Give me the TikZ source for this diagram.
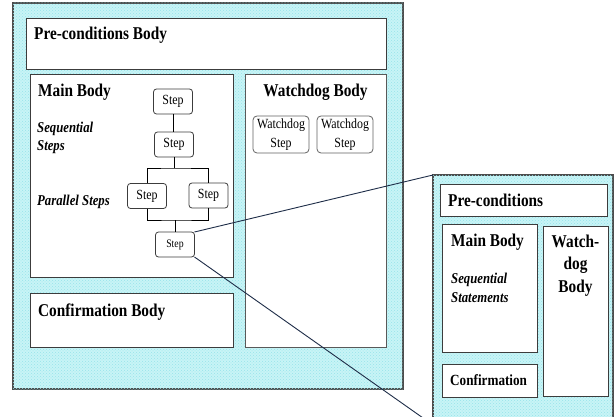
\documentclass[tikz,border=0pt]{standalone}
\usepackage{fontspec}
\setmainfont{Liberation Serif}[FakeStretch=0.85]
\usetikzlibrary{patterns}
\definecolor{tint}{RGB}{200,244,246}
\definecolor{tintdot}{RGB}{150,228,234}
\definecolor{edge}{RGB}{60,60,60}
\definecolor{zoomline}{RGB}{30,45,72}
\newcommand\hdfont{\fontsize{18}{20}\selectfont\bfseries}
\newcommand\smhdfont{\fontsize{15.5}{18}\selectfont\bfseries}
\newcommand\notefont{\fontsize{15}{20}\selectfont\bfseries\itshape}
\newcommand\stepfont{\fontsize{14}{19.5}\selectfont}
\newcommand\tinystepfont{\fontsize{11.5}{13}\selectfont}
\tikzset{
  hatched/.style={fill=tint, postaction={pattern=crosshatch dots, pattern color=tintdot}},
  frame/.style={draw=gray!60!black, line width=1.2pt, hatched, inner sep=0pt, outer sep=0pt, anchor=north west},
  panel/.style={draw=edge, line width=0.9pt, fill=white, inner sep=0pt, outer sep=0pt, anchor=north west},
  stepbox/.style={draw=edge, line width=0.8pt, rounded corners=3pt, fill=white, inner sep=0pt, outer sep=0pt,
    minimum width=39pt, minimum height=25pt, font=\stepfont},
  wdstep/.style={draw=edge!80, line width=0.8pt, rounded corners=4pt, fill=white, inner sep=0pt, outer sep=0pt,
    minimum width=56pt, minimum height=37pt, align=center, font=\stepfont},
  label/.style={anchor=base west, inner sep=0pt},
  flow/.style={draw=black, line width=0.8pt},
  zoomlink/.style={draw=zoomline, line width=0.9pt}
}
\begin{document}
\begin{tikzpicture}[x=1pt, y=-1pt]
\useasboundingbox (0,0) rectangle (616,417);
\clip (0,0) rectangle (616,417);

% outer routine frame
\node[frame, minimum width=390pt, minimum height=386pt] (outer) at (13,3) {};

% bodies of the routine
\node[panel, minimum width=360pt, minimum height=51pt] (pre) at (26,18) {};
\node[panel, minimum width=203pt, minimum height=203pt] (main) at (30,74) {};
\node[panel, draw=gray!70!black, minimum width=141pt, minimum height=273pt] (wd) at (245,74) {};
\node[panel, minimum width=203pt, minimum height=54pt] (conf) at (30,293) {};

\node[label, font=\hdfont] (tpre) at (34,40) {Pre-conditions Body};
\node[label, font=\hdfont] (tmain) at (38,97) {Main Body};
\node[label, font=\notefont, align=left] (tseq) at (37,133) {Sequential};
\node[label, font=\notefont] (tseq2) at (37,150) {Steps};
\node[label, font=\notefont] (tpar) at (37,205) {Parallel Steps};
\node[anchor=base, inner sep=0pt, font=\hdfont] (twd) at (315.5,97) {Watchdog Body};
\node[label, font=\hdfont] (tconf) at (38,316) {Confirmation Body};

% steps of the main body
\node[stepbox] (s1) at (173,101.5) {Step};
\node[stepbox] (s2) at (174,144.5) {Step};
\node[stepbox] (s3) at (147,196) {Step};
\node[stepbox] (s4) at (208.5,195.5) {Step};
\node[stepbox, font=\tinystepfont] (s5) at (175,244.5) {Step};

\coordinate (fork) at (174,168);
\coordinate (join) at (175,220);
\draw[flow] (s1.south) -- (s1.south |- s2.north);
\draw[flow] (s2.south) -- (fork);
\draw[flow] (s3.north) |- (fork) -| (s4.north);
\draw[flow] (s3.south) |- (join) -| (s4.south);
\draw[flow] (join) -- (s5.north);

% watchdog steps
\node[wdstep] (w1) at (281,134.5) {Watchdog\\Step};
\node[wdstep] (w2) at (345,134.5) {Watchdog\\Step};

% enlarged view of a step
\node[frame, minimum width=180pt, minimum height=250pt] (zoom) at (433,175) {};
\node[panel, minimum width=167pt, minimum height=32pt] (dpre) at (440,184) {};
\node[panel, minimum width=95pt, minimum height=128pt] (dmain) at (442,224) {};
\node[panel, minimum width=65pt, minimum height=170pt] (dwd) at (543,226) {};
\node[panel, minimum width=95pt, minimum height=33pt] (dconf) at (442,364) {};

\node[label, font=\hdfont] (tdpre) at (448,206) {Pre-conditions};
\node[label, font=\hdfont] (tdmain) at (451,246) {Main Body};
\node[label, font=\notefont] (tdseq) at (451,283) {Sequential};
\node[label, font=\notefont] (tdseq2) at (451,302) {Statements};
\node[anchor=base, inner sep=0pt, font=\hdfont] (tdwd1) at (575.5,247) {Watch-};
\node[anchor=base, inner sep=0pt, font=\hdfont] (tdwd2) at (575.5,269.5) {dog};
\node[anchor=base, inner sep=0pt, font=\hdfont] (tdwd3) at (575.5,292) {Body};
\node[label, font=\smhdfont] (tdconf) at (450,385) {Confirmation};

% lines tying the step to its enlarged view
\draw[zoomlink] (s5.north east) -- (zoom.north west);
\draw[zoomlink] (s5.south east) -- (zoom.south west);
\end{tikzpicture}
\end{document}
